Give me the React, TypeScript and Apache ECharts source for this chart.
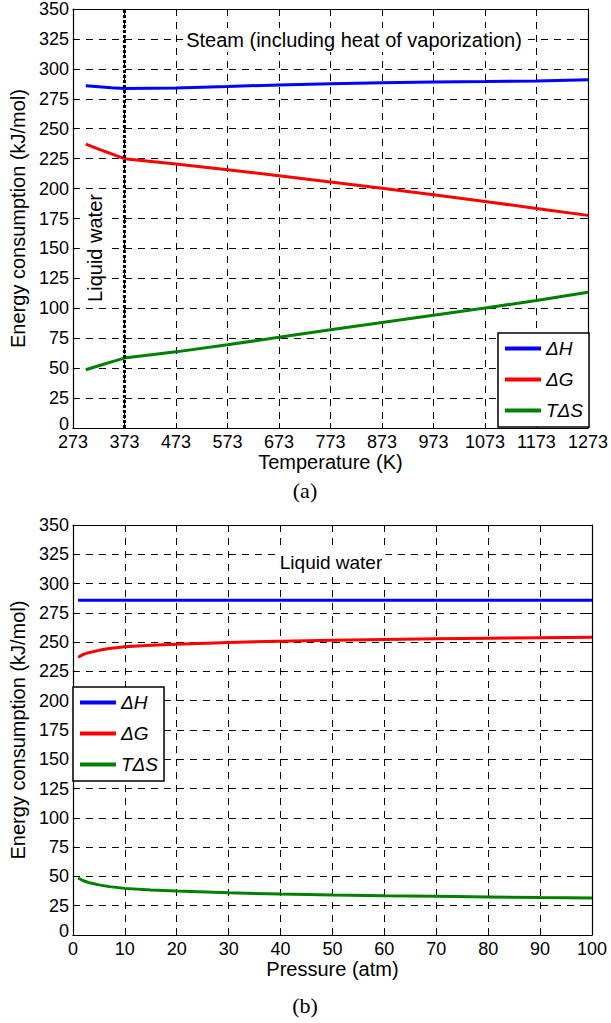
import React, { useEffect, useRef } from "react";
import * as echarts from "echarts";

// ---- Data (a): temperature sweep ----
const tempK = [298, 323, 348, 373, 473, 573, 673, 773, 873, 973, 1073, 1173, 1273];
const dH_T = [285.8, 285.0, 284.2, 283.5, 284.1, 285.3, 286.6, 287.6, 288.4, 289.0, 289.4, 289.9, 291.0];
const dG_T = [237.1, 233.0, 229.0, 225.0, 220.5, 215.8, 210.8, 205.5, 200.2, 194.8, 189.2, 183.4, 177.6];
const TdS_T = [48.7, 52.0, 55.2, 58.4, 63.6, 69.5, 75.8, 82.1, 88.2, 94.2, 100.2, 106.5, 113.4];
const boilingK = 373;

// ---- Data (b): pressure sweep ----
const pressureAtm = [1, 2, 3, 5, 7, 10, 15, 20, 30, 40, 50, 60, 70, 80, 90, 100];
const dH_P = [285.8, 285.8, 285.8, 285.8, 285.8, 285.8, 285.8, 285.8, 285.8, 285.8, 285.8, 285.8, 285.8, 285.8, 285.8, 285.8];
const dG_P = [237.1, 239.5, 241.0, 243.0, 244.5, 246.0, 247.3, 248.3, 249.8, 250.8, 251.6, 252.3, 252.8, 253.3, 253.8, 254.2];
const TdS_P = [48.7, 46.3, 44.8, 42.8, 41.3, 39.8, 38.5, 37.5, 36.0, 35.0, 34.2, 33.5, 33.0, 32.5, 32.0, 31.6];

const seriesNames = ["ΔH", "ΔG", "TΔS"];
const seriesColors = ["#0000ff", "#ff0000", "#008000"];

const FONT = "'Liberation Sans', Arial, sans-serif";
const SERIF = "'Liberation Serif', 'Times New Roman', serif";

const zip = (xs: number[], ys: number[]) => xs.map((x, i) => [x, ys[i]]);

export default function App() {
  const ref = useRef<HTMLDivElement>(null);

  useEffect(() => {
    if (!ref.current) return;
    const chart = echarts.init(ref.current, null, { renderer: "svg" });

    const grids = [
      { left: 69, top: 9, width: 523, height: 419 },
      { left: 69, top: 525, width: 523, height: 410 },
    ];

    const split = { show: true, lineStyle: { color: "#000", width: 1, type: [7, 6] as any } };
    const axisLine = { show: true, onZero: false, lineStyle: { color: "#000", width: 1.2 } };
    const tick = { show: true, inside: true, length: 5, lineStyle: { color: "#000" } };
    const lbl = { color: "#000", fontSize: 18, fontFamily: FONT };

    const xAxes: any[] = [];
    const yAxes: any[] = [];
    const xCfg = [
      { min: 273, max: 1273, interval: 100, name: "Temperature (K)" },
      { min: 0, max: 100, interval: 10, name: "Pressure (atm)" },
    ];
    xCfg.forEach((c, g) => {
      xAxes.push({
        type: "value", gridIndex: g, position: "bottom", min: c.min, max: c.max, interval: c.interval,
        name: c.name, nameLocation: "middle", nameGap: 22,
        nameTextStyle: { color: "#000", fontSize: 20, fontFamily: FONT },
        axisLine, axisTick: tick,
        axisLabel: { ...lbl, margin: 5, formatter: (v: number) => String(v) },
        splitLine: split,
      });
      xAxes.push({
        type: "value", gridIndex: g, position: "top", min: c.min, max: c.max, interval: c.interval,
        axisLine, axisTick: tick, axisLabel: { show: false }, splitLine: { show: false },
      });
      yAxes.push({
        type: "value", gridIndex: g, position: "left", min: 0, max: 350, interval: 25,
        name: "Energy consumption (kJ/mol)", nameLocation: "middle", nameGap: 42,
        nameTextStyle: { color: "#000", fontSize: 20, fontFamily: FONT },
        axisLine, axisTick: tick,
        axisLabel: {
          ...lbl, margin: 4,
          formatter: (v: number) => (v === 0 ? "{z|0}" : String(v)),
          rich: { z: { fontSize: 18, fontFamily: FONT, color: "#000", padding: [0, 0, 8, 0] } },
        },
        splitLine: split,
      });
      yAxes.push({
        type: "value", gridIndex: g, position: "right", min: 0, max: 350, interval: 25,
        axisLine, axisTick: tick, axisLabel: { show: false }, splitLine: { show: false },
      });
    });

    const mk = (name: string, color: string, data: number[][], axis: number) => ({
      name, type: "line", xAxisIndex: axis * 2, yAxisIndex: axis * 2, data,
      symbol: "none", lineStyle: { color, width: 3 }, itemStyle: { color }, z: 3,
    });

    const series: any[] = [
      mk(seriesNames[0], seriesColors[0], zip(tempK, dH_T), 0),
      mk(seriesNames[1], seriesColors[1], zip(tempK, dG_T), 0),
      mk(seriesNames[2], seriesColors[2], zip(tempK, TdS_T), 0),
      {
        name: "boiling", type: "line", xAxisIndex: 0, yAxisIndex: 0, symbol: "none",
        data: [[boilingK, 0], [boilingK, 350]],
        lineStyle: { color: "#000", width: 3, type: [3, 2] as any }, z: 4,
      },
      mk(seriesNames[0], seriesColors[0], zip(pressureAtm, dH_P), 1),
      mk(seriesNames[1], seriesColors[1], zip(pressureAtm, dG_P), 1),
      mk(seriesNames[2], seriesColors[2], zip(pressureAtm, TdS_P), 1),
    ];

    const legendBase = {
      orient: "vertical", data: seriesNames, icon: "rect", itemWidth: 36, itemHeight: 4, itemGap: 12,
      backgroundColor: "#fff", borderColor: "#000", borderWidth: 1.5, borderRadius: 0,
      padding: [6, 6, 7, 7], selectedMode: false,
      textStyle: { color: "#000", fontSize: 19, lineHeight: 14, fontStyle: "italic", fontFamily: FONT },
      z: 10,
    };

    const txt = (x: number, y: number, text: string, size: number, extra: any = {}) => ({
      type: "text", x, y, z: 20,
      style: {
        text, fill: "#000", font: `${size}px ${FONT}`, align: "center", verticalAlign: "middle",
        backgroundColor: "#fff", padding: [2, 3], ...extra,
      },
    });

    chart.setOption({
      animation: false,
      backgroundColor: "#fff",
      grid: grids,
      xAxis: xAxes,
      yAxis: yAxes,
      series,
      legend: [
        { ...legendBase, left: 498, top: 333 },
        { ...legendBase, left: 73, top: 687 },
      ],
      graphic: [
        txt(354, 40, "Steam (including heat of vaporization)", 20),
        { ...txt(95, 248, "Liquid water", 20), rotation: Math.PI / 2 },
        txt(331, 562, "Liquid water", 19),
        txt(305, 490, "(a)", 22, { font: `22px ${SERIF}`, backgroundColor: "transparent" }),
        txt(305, 1005, "(b)", 22, { font: `22px ${SERIF}`, backgroundColor: "transparent" }),
      ],
    });

    return () => chart.dispose();
  }, []);

  return (
    <div style={{ position: "fixed", left: 0, top: 0, width: 611, height: 1023, background: "#fff" }}>
      <div ref={ref} style={{ width: 611, height: 1023 }} />
    </div>
  );
}
